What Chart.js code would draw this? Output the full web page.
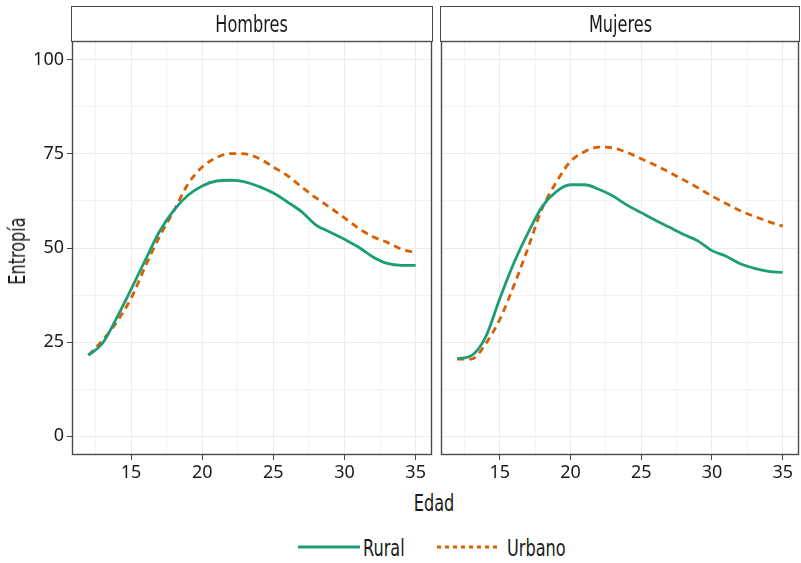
<!DOCTYPE html>
<html>
<head>
<meta charset="utf-8">
<script src="https://cdn.jsdelivr.net/npm/chart.js@4"></script>
<style>
  body { margin: 0; background: #fff; }
  #wrap { position: relative; width: 801px; height: 563px; overflow: hidden; }
  canvas { position: absolute; top: 0; }
  .cond { font-family: 'Liberation Sans Narrow', 'DejaVu Sans Condensed', sans-serif; font-size: 23px; color: #1a1a1a; }
  .strip { position: absolute; top: 6px; height: 34px; border: 1px solid #4a4a4a; box-sizing: content-box; text-align: center; line-height: 34px; }
  .strip span { display: inline-block; transform: scaleX(0.78); }
  .lab { position: absolute; white-space: nowrap; }
  .mid { transform: translate(-50%, -50%) scaleX(0.78); }
  .leg span { display: inline-block; transform: scaleX(0.78); transform-origin: left center; }
  .leg svg { position: absolute; left: 0; top: 5px; }
</style>
</head>
<body>
<div id="wrap">
  <canvas id="hombres" width="436" height="490" style="left:0px;width:436px;height:490px"></canvas>
  <canvas id="mujeres" width="365" height="490" style="left:436px;width:365px;height:490px"></canvas>
  <div class="strip cond" style="left:71px;width:360px"><span>Hombres</span></div>
  <div class="strip cond" style="left:440px;width:358px"><span>Mujeres</span></div>
  <div class="lab cond" style="left:17px;top:251px;transform:translate(-50%,-50%) rotate(-90deg) scaleX(0.78)">Entropía</div>
  <div class="lab cond mid" style="left:434px;top:503px">Edad</div>
  <div class="lab cond leg" style="left:297px;top:535px;width:120px;height:26px">
    <svg width="64" height="14"><line x1="1" y1="7" x2="63" y2="7" stroke="#1b9e77" stroke-width="3"/></svg>
    <span style="position:absolute;left:66px;top:0">Rural</span>
  </div>
  <div class="lab cond leg" style="left:436px;top:535px;width:140px;height:26px">
    <svg width="64" height="14"><line x1="1" y1="7" x2="62" y2="7" stroke="#d95f02" stroke-width="3" stroke-dasharray="4 4"/></svg>
    <span style="position:absolute;left:71px;top:0">Urbano</span>
  </div>
</div>
<script>
// Edad (años)
const ages = [12, 13, 14, 15, 16, 17, 18, 19, 20, 21, 22, 23, 24, 25, 26, 27, 28, 29, 30, 31, 32, 33, 34, 35];

// Entropía por sexo y área
const hombresRural  = [21.5, 24.7, 31.5, 39, 46.8, 54.4, 60, 64, 66.5, 67.8, 68, 67.6, 66.3, 64.6, 62.2, 59.6, 56.1, 54.2, 52.3, 50.2, 47.6, 45.9, 45.4, 45.4];
const hombresUrbano = [21.5, 25.5, 30.4, 36.6, 45.1, 53, 59.8, 67, 71.5, 74, 75.1, 75, 73.8, 71.5, 69.2, 66.2, 63.3, 60.7, 58, 55.2, 53, 51.5, 49.7, 48.8];
const mujeresRural  = [20.6, 21.4, 26.3, 36.5, 46, 54, 61, 65, 66.8, 66.8, 65.6, 63.8, 61.4, 59.4, 57.4, 55.5, 53.6, 51.9, 49.3, 47.8, 45.8, 44.6, 43.8, 43.5];
const mujeresUrbano = [20.5, 20.5, 24.5, 31, 40, 50, 60.5, 67.5, 73, 75.6, 76.8, 76.6, 75.4, 73.7, 72, 70.1, 68.1, 66, 63.8, 61.8, 59.9, 58.4, 57, 55.8];

// ticks (major + minor grid)
const xTicks = [12.5, 15, 17.5, 20, 22.5, 25, 27.5, 30, 32.5, 35];
const yTicks = [0, 12.5, 25, 37.5, 50, 62.5, 75, 87.5, 100];

const GREEN = '#1b9e77';
const ORANGE = '#d95f02';
const tickFont = { family: "'Noto Sans', sans-serif", size: 18 };

const toPoints = (vals) => ages.map((a, i) => ({ x: a, y: vals[i] }));

const panelBorder = {
  id: 'panelBorder',
  afterDraw(chart) {
    const { ctx, chartArea: a } = chart;
    ctx.save();
    ctx.strokeStyle = '#4a4a4a';
    ctx.lineWidth = 1.4;
    ctx.strokeRect(a.left + 0.5, a.top + 0.5, a.right - a.left - 1, a.bottom - a.top - 1);
    ctx.restore();
  }
};

const makeChart = (id, rural, urbano, showY) => {
  return new Chart(document.getElementById(id), {
    type: 'line',
    data: {
      datasets: [
        {
          label: 'Rural',
          data: toPoints(rural),
          borderColor: GREEN,
          borderWidth: 2.8,
          pointRadius: 0,
          cubicInterpolationMode: 'monotone'
        },
        {
          label: 'Urbano',
          data: toPoints(urbano),
          borderColor: ORANGE,
          borderWidth: 2.8,
          borderDash: [7, 5],
          pointRadius: 0,
          cubicInterpolationMode: 'monotone'
        }
      ]
    },
    options: {
      responsive: false,
      animation: false,
      layout: { padding: { top: 41, right: showY ? 4 : 2, left: 0, bottom: 0 } },
      plugins: { legend: { display: false }, tooltip: { enabled: false } },
      scales: {
        x: {
          type: 'linear',
          min: 10.85,
          max: 36.15,
          afterBuildTicks: (s) => { s.ticks = xTicks.map(v => ({ value: v })); },
          afterFit: (s) => { s.height = 35; },
          border: { display: false },
          grid: {
            color: (c) => (c.tick && c.tick.value % 5 === 0) ? '#ebebeb' : '#f3f3f3',
            tickColor: (c) => (c.tick && c.tick.value % 5 === 0) ? '#444' : 'rgba(0,0,0,0)',
            tickLength: 5
          },
          ticks: {
            autoSkip: false,
            maxRotation: 0,
            padding: 2,
            color: '#1a1a1a',
            font: tickFont,
            callback: (v) => v % 5 === 0 ? v : ''
          }
        },
        y: {
          min: -5,
          max: 105,
          afterBuildTicks: (s) => { s.ticks = yTicks.map(v => ({ value: v })); },
          afterFit: (s) => { s.width = showY ? 72 : 5; },
          border: { display: false },
          grid: {
            color: (c) => (c.tick && c.tick.value % 25 === 0) ? '#ebebeb' : '#f3f3f3',
            tickColor: (c) => (c.tick && c.tick.value % 25 === 0) ? '#444' : 'rgba(0,0,0,0)',
            tickLength: 5,
            drawTicks: showY
          },
          ticks: {
            display: showY,
            autoSkip: false,
            padding: 3,
            color: '#1a1a1a',
            font: tickFont,
            callback: (v) => v % 25 === 0 ? v : ''
          }
        }
      }
    },
    plugins: [panelBorder]
  });
};

makeChart('hombres', hombresRural, hombresUrbano, true);
makeChart('mujeres', mujeresRural, mujeresUrbano, false);
</script>
</body>
</html>
